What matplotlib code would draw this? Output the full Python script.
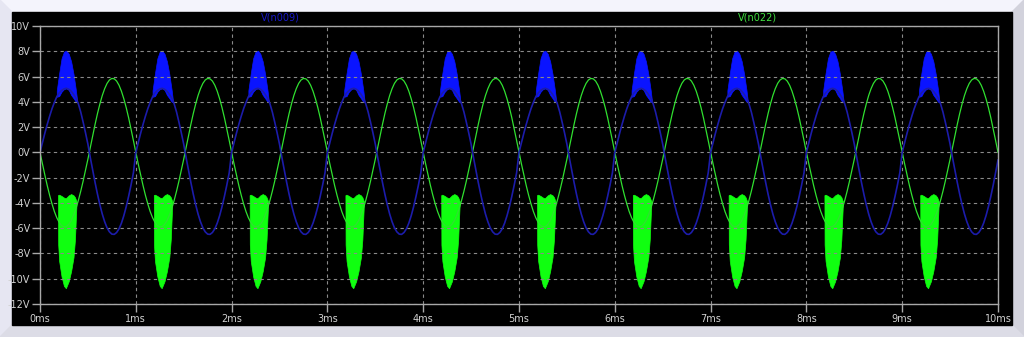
import numpy as np
import matplotlib.pyplot as plt
from matplotlib.patches import Polygon, Rectangle

# one period (1 ms) of each trace, every 0.025 ms
period_t = np.linspace(0, 1.0, 41)
v_n009 = [0.0, 0.75, 1.5, 2.2, 2.85, 3.45, 3.95, 4.4, 4.7, 4.9, 5.02, 5.07, 5.0, 4.85,
          4.6, 4.3, 3.85, 3.2, 2.4, 1.55, 0.65, -0.41, -1.42, -2.39, -3.31, -4.14,
          -4.88, -5.49, -5.97, -6.29, -6.47, -6.49, -6.34, -6.05, -5.6, -5.01, -4.3,
          -3.48, -2.59, -1.62, -0.61]
v_n022 = [0.0, -0.9, -1.77, -2.61, -3.38, -4.07, -4.68, -5.17, -5.54, -5.79, -5.89,
          -5.87, -5.7, -5.41, -4.98, -4.45, -3.81, -3.08, -2.28, -1.43, -0.54, 0.38,
          1.32, 2.22, 3.07, 3.83, 4.5, 5.04, 5.46, 5.73, 5.85, 5.82, 5.64, 5.31, 4.84,
          4.24, 3.54, 2.74, 1.86, 0.94, 0.0]

# ringing bursts (envelopes) inside each period
burst9_t = [0.175, 0.2, 0.225, 0.25, 0.275, 0.3, 0.325, 0.35, 0.375, 0.39]
burst9_top = [4.9, 6.26, 7.44, 7.97, 8.05, 7.8, 7.2, 6.2, 4.9, 3.95]
burst9_bot = [4.4, 4.45, 4.8, 5.0, 5.07, 4.94, 4.54, 4.28, 4.0, 3.95]

burst22_t = [0.188, 0.19, 0.2, 0.225, 0.25, 0.27, 0.3, 0.325, 0.35, 0.365, 0.375, 0.382]
burst22_top = [-3.4, -3.37, -3.35, -3.45, -3.58, -3.63, -3.4, -3.3, -3.4, -3.55, -3.75, -3.9]
burst22_bot = [-3.4, -7.3, -8.6, -9.83, -10.57, -10.75, -10.2, -9.4, -8.3, -6.9, -5.1, -3.9]

period_starts = [0, 1, 2, 3, 4, 5, 6, 7, 8, 9]

y_ticks = list(range(-12, 11, 2))
x_ticks = list(range(0, 11))

fig = plt.figure(figsize=(10.24, 3.37), dpi=100)

# window frame
bg = fig.add_axes([0, 0, 1, 1])
bg.set_xlim(0, 1024)
bg.set_ylim(337, 0)
bg.axis('off')
bg.add_patch(Polygon([(0, 0), (1024, 0), (1012, 12), (12, 12)], color='#f4f4fc'))
bg.add_patch(Polygon([(0, 0), (12, 12), (12, 325), (0, 337)], color='#e6e6f2'))
bg.add_patch(Polygon([(1024, 0), (1024, 337), (1012, 325), (1012, 12)], color='#d2d2dc'))
bg.add_patch(Polygon([(0, 337), (12, 325), (1012, 325), (1024, 337)], color='#dcdce6'))
bg.add_patch(Rectangle((12, 12), 1000, 313, color='black'))
bg.text(280, 18, 'V(n009)', ha='center', va='center', color='#1818c8', fontsize=7)
bg.text(757, 18, 'V(n022)', ha='center', va='center', color='#40e040', fontsize=7)

ax = fig.add_axes([40 / 1024, 1 - 304 / 337, 958 / 1024, 278 / 337])
ax.set_facecolor('none')

t_all, b_all, g_all = [], [], []
for i, t0 in enumerate(period_starts):
    n = 41 if i == len(period_starts) - 1 else 40
    t_all += list(period_t[:n] + t0)
    b_all += v_n009[:n]
    g_all += v_n022[:n]

ax.plot(t_all, g_all, color='#30e030', lw=0.9)
ax.plot(t_all, b_all, color='#1c1caa', lw=1.2)

for t0 in period_starts:
    ax.fill_between(np.array(burst9_t) + t0, burst9_bot, burst9_top,
                    color='#0a14ff', lw=0.5, edgecolor='#0a14ff')
    ax.fill_between(np.array(burst22_t) + t0, burst22_bot, burst22_top,
                    color='#10ff10', lw=0.5, edgecolor='#10ff10')

ax.set_xlim(0, 10)
ax.set_ylim(-12, 10)
ax.set_xticks(x_ticks)
ax.set_xticklabels([f'{v}ms' for v in x_ticks])
ax.set_yticks(y_ticks)
ax.set_yticklabels([f'{v}V' for v in y_ticks])
ax.tick_params(colors='#a8a8a8', labelcolor='#d0d0d0', direction='out',
               length=6, width=1, labelsize=7, pad=1)
ax.grid(True, color='#8a8a8a', linestyle=(0, (3, 3)), lw=0.8)
for s in ax.spines.values():
    s.set_color('#a8a8a8')
    s.set_linewidth(1)

fig.savefig('out.png', dpi=100, facecolor='black')
